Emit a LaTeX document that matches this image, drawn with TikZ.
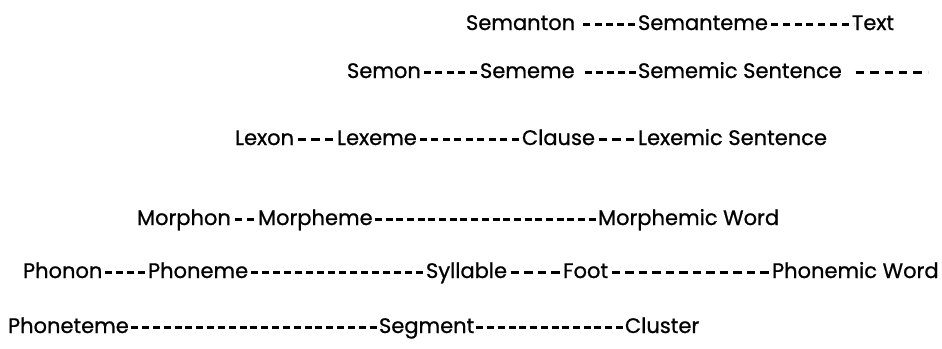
\documentclass[tikz,border=0pt]{standalone}
\usepackage{fontspec}
\usetikzlibrary{decorations}
\setmainfont{Poppins}[FakeBold=0.8]
\begin{document}
\begin{tikzpicture}[x=1pt,y=1pt,
  word/.style={inner sep=0pt, outer sep=0pt, anchor=base west, font=\fontsize{21}{24}\selectfont},
  dl/.style={line width=3pt, dash pattern=on 7pt off 3.5pt, dash expand off},
  dlw/.style={line width=3pt, dash pattern=on 8.5pt off 4.5pt, dash expand off}]
\useasboundingbox (0,0) rectangle (942,-348);
% line 1
\node[word] (semanton) at (466,-30) {Semanton};
\node[word] (semanteme) at (638,-30) {Semanteme};
\node[word] (text) at (852,-30) {Text};
\draw[dl] ([xshift=4pt,yshift=6pt]semanton.base east) -- ([xshift=1.5pt,yshift=6pt]semanteme.base west);
\draw[dl] ([xshift=-1.5pt,yshift=6pt]semanteme.base east) -- ([xshift=1.5pt,yshift=6pt]text.base west);
% line 2
\node[word] (semon) at (347,-78) {Semon};
\node[word] (sememe) at (480,-78) {Sememe};
\node[word] (semsent) at (638,-78) {Sememic Sentence};
\coordinate (semend) at ([xshift=86pt,yshift=6pt]semsent.base east);
\draw[dl] ([xshift=-1.5pt,yshift=6pt]semon.base east) -- ([xshift=1.5pt,yshift=6pt]sememe.base west);
\draw[dl] ([xshift=6pt,yshift=6pt]sememe.base east) -- ([xshift=1.5pt,yshift=6pt]semsent.base west);
\draw[dlw] ([xshift=8pt,yshift=6pt]semsent.base east) -- (semend);
% line 3
\node[word] (lexon) at (235,-145) {Lexon};
\node[word] (lexeme) at (337,-145) {Lexeme};
\node[word] (clause) at (522,-145) {Clause};
\node[word] (lexsent) at (638,-145) {Lexemic Sentence};
\draw[dlw] ([xshift=-1.5pt,yshift=6pt]lexon.base east) -- ([xshift=1.5pt,yshift=6pt]lexeme.base west);
\draw[dl] ([xshift=-1.5pt,yshift=6pt]lexeme.base east) -- ([xshift=1.5pt,yshift=6pt]clause.base west);
\draw[dlw] ([xshift=-1.5pt,yshift=6pt]clause.base east) -- ([xshift=1.5pt,yshift=6pt]lexsent.base west);
% line 4
\node[word] (morphon) at (137,-225) {Morphon};
\node[word] (morpheme) at (258,-225) {Morpheme};
\node[word] (morphword) at (598,-225) {Morphemic Word};
\draw[dl] ([xshift=-1.5pt,yshift=6pt]morphon.base east) -- ([xshift=1.5pt,yshift=6pt]morpheme.base west);
\draw[dl] ([xshift=-1.5pt,yshift=6pt]morpheme.base east) -- ([xshift=1.5pt,yshift=6pt]morphword.base west);
% line 5
\node[word] (phonon) at (23,-278) {Phonon};
\node[word] (phoneme) at (148,-278) {Phoneme};
\node[word] (syllable) at (426,-278) {Syllable};
\node[word] (foot) at (563,-278) {Foot};
\node[word] (phonword) at (772,-278) {Phonemic Word};
\draw[dl] ([xshift=-1.5pt,yshift=6pt]phonon.base east) -- ([xshift=1.5pt,yshift=6pt]phoneme.base west);
\draw[dl] ([xshift=-1.5pt,yshift=6pt]phoneme.base east) -- ([xshift=1.5pt,yshift=6pt]syllable.base west);
\draw[dlw] ([xshift=-1.5pt,yshift=6pt]syllable.base east) -- ([xshift=1.5pt,yshift=6pt]foot.base west);
\draw[dlw] ([xshift=-1.5pt,yshift=6pt]foot.base east) -- ([xshift=1.5pt,yshift=6pt]phonword.base west);
% line 6
\node[word] (phoneteme) at (8,-333) {Phoneteme};
\node[word] (segment) at (379,-333) {Segment};
\node[word] (cluster) at (625,-333) {Cluster};
\draw[dl] ([xshift=-1.5pt,yshift=6pt]phoneteme.base east) -- ([xshift=1.5pt,yshift=6pt]segment.base west);
\draw[dl] ([xshift=-1.5pt,yshift=6pt]segment.base east) -- ([xshift=1.5pt,yshift=6pt]cluster.base west);
\end{tikzpicture}
\end{document}
